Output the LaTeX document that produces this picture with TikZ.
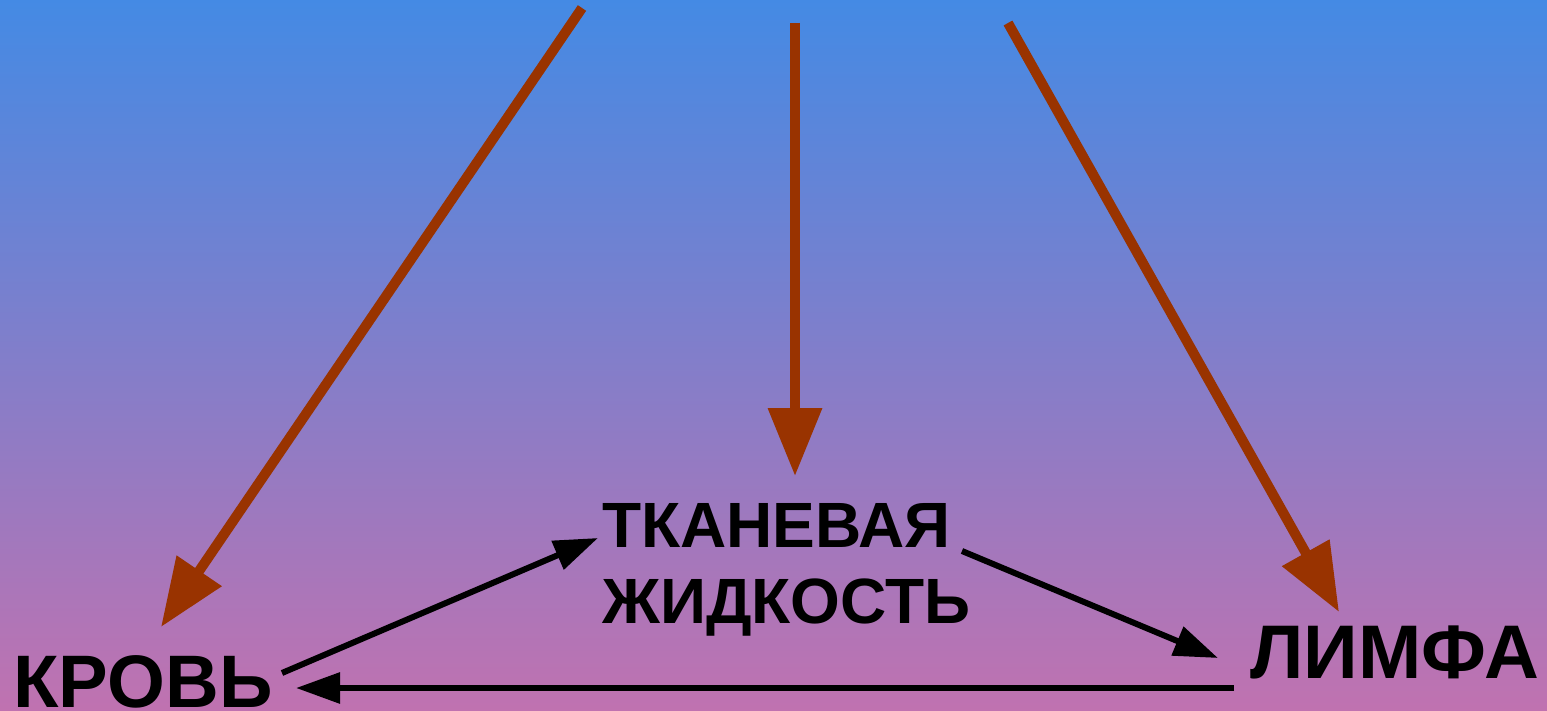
\documentclass[tikz,border=0pt]{standalone}
\usepackage{fontspec}
\setmainfont{Liberation Sans}
\usetikzlibrary{arrows.meta}
\definecolor{bgtop}{RGB}{68,138,228}
\definecolor{bgmid}{RGB}{123,128,208}
\definecolor{bgbot}{RGB}{192,114,176}
\definecolor{feed}{RGB}{153,51,0}
\tikzset{
  bigword/.style={inner sep=0pt, anchor=base west, font=\fontsize{#1}{40pt}\selectfont\bfseries},
  midword/.style={inner sep=0pt, anchor=base west, font=\fontsize{32pt}{38pt}\selectfont\bfseries},
  feedarrow/.style={draw=feed, line width=5pt, -{Triangle[length=34pt,width=26pt]}, fill=feed},
  flowarrow/.style={draw=black, line width=3pt, -{Triangle[length=22pt,width=15pt]}}
}
\begin{document}
\begin{tikzpicture}[x=0.5pt,y=-0.5pt]
  \useasboundingbox (0,0) rectangle (1547,711);
  \shade[top color=bgtop, middle color=bgmid, bottom color=bgbot] (0,0) rectangle (1547,711);

  % labels
  \node[bigword=37.2pt] (krov) at (13,707) {КРОВЬ};
  \node[bigword=38pt] (limfa) at (1250,678) {ЛИМФА};
  \node[midword] (tk) at (602,547) {ТКАНЕВАЯ};
  \node[midword] (zh) at (602,623) {ЖИДКОСТЬ};

  % arrow ends
  \coordinate (s1) at (582,8);
  \coordinate (s2) at (795,23);
  \coordinate (s3) at (1008,23);
  \coordinate (e1) at (161,627);
  \coordinate (e2) at (795,476);
  \coordinate (e3) at (1339,612);
  \coordinate (kout) at (282,673);
  \coordinate (tin) at (598,538);
  \coordinate (tout) at (962,551);
  \coordinate (lin) at (1218,658);
  \coordinate (lout) at (1234,688);
  \coordinate (kin) at (296,688);

  % brown arrows from above
  \draw[feedarrow] (s1) -- (e1);
  \draw[feedarrow] (s2) -- (e2);
  \draw[feedarrow] (s3) -- (e3);

  % circulation between the fluids
  \draw[flowarrow] (kout) -- (tin);
  \draw[flowarrow] (tout) -- (lin);
  \draw[flowarrow] (lout) -- (kin);
\end{tikzpicture}
\end{document}
